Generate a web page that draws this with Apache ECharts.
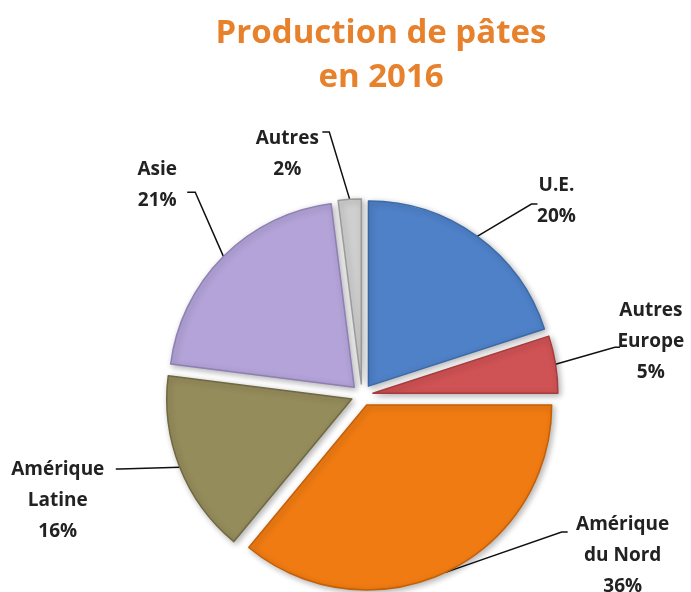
<!DOCTYPE html>
<html>
<head>
<meta charset="utf-8">
<script src="https://cdn.jsdelivr.net/npm/echarts@6/dist/echarts.min.js"></script>
<style>
  html, body { margin: 0; padding: 0; background: #fff; }
  #chart { width: 691px; height: 592px; }
</style>
</head>
<body>
<div id="chart"></div>
<script>
// parts de la production mondiale de pâtes (%)
var regions = ["U.E.", "Autres\nEurope", "Amérique\ndu Nord", "Amérique\nLatine", "Asie", "Autres"];
var shares = [20, 5, 36, 16, 21, 2];
var colors = ["#4f81c8", "#cf5254", "#f07b12", "#958c5c", "#b3a3d8", "#cfcfcf"];
var borders = ["#3a6aa8", "#a63c3e", "#c45f06", "#6f6840", "#8e7fb4", "#9a9a9a"];
// étiquettes : centre du bloc et coude du trait
var labelPos = [[550, 210], [640, 343], [618, 546], [68, 497], [165, 193], [288, 165]];
var elbows = [[[525, 213], [531, 213]], [[604, 349], [609, 349]], [[557, 522], [563, 522]],
              [[130, 465], [126, 465]], [[203, 200], [195, 200]], [[330, 143], [323, 143]]];

var chart = echarts.init(document.getElementById("chart"));

var data = regions.map(function (n, i) {
  return {
    name: n,
    value: shares[i],
    selected: true,
    itemStyle: { color: colors[i], borderColor: borders[i], borderWidth: 1.5 }
  };
});

var option = {
  animation: false,
  title: {
    text: "Production de pâtes\nen 2016",
    left: 376,
    top: 7,
    textAlign: "center",
    textStyle: {
      color: "#e8812c",
      fontFamily: "Open Sans",
      fontWeight: "bold",
      fontSize: 33,
      lineHeight: 44
    }
  },
  series: [
    {
      type: "pie",
      center: [362, 395],
      radius: [0, 185],
      startAngle: 90,
      clockwise: true,
      selectedMode: "multiple",
      selectedOffset: 11,
      itemStyle: {
        shadowBlur: 6,
        shadowColor: "rgba(0,0,0,0.3)",
        shadowOffsetX: 2,
        shadowOffsetY: 2
      },
      label: {
        show: true,
        formatter: "{b}\n{d}%",
        color: "#222",
        fontFamily: "Open Sans",
        fontWeight: "bold",
        fontSize: 19,
        lineHeight: 31
      },
      labelLine: {
        show: true,
        lineStyle: { color: "#111", width: 1.5 }
      },
      labelLayout: function (p) {
        var pos = labelPos[p.dataIndex];
        var r = p.labelRect;
        // point d'ancrage actuel de l'étiquette
        var x0 = p.align === "left" ? r.x : (p.align === "right" ? r.x + r.width : r.x + r.width / 2);
        var y0 = p.verticalAlign === "top" ? r.y : (p.verticalAlign === "bottom" ? r.y + r.height : r.y + r.height / 2);
        var start = p.labelLinePoints ? p.labelLinePoints[0] : pos;
        var e = elbows[p.dataIndex];
        return {
          align: "center",
          verticalAlign: "middle",
          dx: pos[0] - x0,
          dy: pos[1] - y0,
          labelLinePoints: [start, e[0], e[1]]
        };
      },
      emphasis: { disabled: true },
      data: data
    }
  ]
};

chart.setOption(option);
window.addEventListener("resize", function () { chart.resize(); });
</script>
</body>
</html>
